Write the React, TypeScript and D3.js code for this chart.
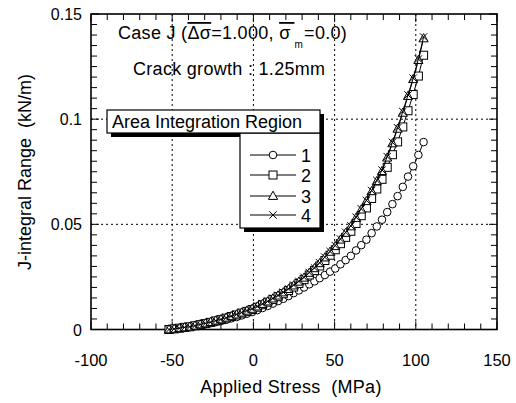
import React from "react";
import * as d3 from "d3";

const stress = [-52, -48.8, -45.6, -42.4, -39.2, -36, -32.8, -29.6, -26.4, -23.2, -20, -16.8, -13.6, -10.4, -7.2, -4, -0.8, 2.4, 5.6, 8.8, 12, 15.2, 18.4, 21.6, 24.8, 28, 31.2, 34.4, 37.6, 40.8, 44, 47.2, 50.4, 53.6, 56.8, 60, 63.2, 66.4, 69.6, 72.8, 76, 79.2, 82.4, 85.6, 88.8, 92, 95.2, 98.4, 101.6, 104.8];

const region1 = [0, 0.0003, 0.0006, 0.0008, 0.0011, 0.0016, 0.002, 0.0025, 0.003, 0.0035, 0.004, 0.0046, 0.0053, 0.0059, 0.0067, 0.0075, 0.0083, 0.0092, 0.0102, 0.0112, 0.0123, 0.0135, 0.0146, 0.0159, 0.0173, 0.0186, 0.02, 0.0215, 0.0229, 0.0244, 0.0259, 0.0275, 0.029, 0.031, 0.033, 0.035, 0.0376, 0.0401, 0.0427, 0.0458, 0.049, 0.0522, 0.0558, 0.0596, 0.0634, 0.0678, 0.0727, 0.0776, 0.083, 0.0891];
const region2 = [0, 0.0003, 0.0006, 0.001, 0.0013, 0.0018, 0.0023, 0.0028, 0.0034, 0.0041, 0.0047, 0.0054, 0.0062, 0.0069, 0.0078, 0.0086, 0.0095, 0.0106, 0.0118, 0.013, 0.0143, 0.0156, 0.017, 0.0185, 0.0202, 0.0219, 0.0237, 0.0259, 0.028, 0.0302, 0.0328, 0.0353, 0.0379, 0.0408, 0.0438, 0.0467, 0.0504, 0.0541, 0.0578, 0.0623, 0.0668, 0.0714, 0.0771, 0.0831, 0.0892, 0.0963, 0.104, 0.1117, 0.1205, 0.1304];
const region3 = [0, 0.0003, 0.0006, 0.001, 0.0013, 0.0018, 0.0024, 0.0029, 0.0035, 0.0042, 0.0048, 0.0056, 0.0063, 0.0071, 0.008, 0.0089, 0.0098, 0.0109, 0.0121, 0.0133, 0.0147, 0.0161, 0.0176, 0.0192, 0.0209, 0.0227, 0.0246, 0.0269, 0.0291, 0.0315, 0.0342, 0.0369, 0.0396, 0.0427, 0.0459, 0.049, 0.053, 0.057, 0.061, 0.0657, 0.0705, 0.0753, 0.0817, 0.0885, 0.0954, 0.103, 0.111, 0.119, 0.1281, 0.1384];
const region4 = [0, 0.0003, 0.0006, 0.001, 0.0013, 0.0018, 0.0024, 0.0029, 0.0035, 0.0042, 0.0048, 0.0056, 0.0064, 0.0072, 0.0081, 0.009, 0.0099, 0.011, 0.0122, 0.0134, 0.0148, 0.0162, 0.0177, 0.0193, 0.0211, 0.0229, 0.0248, 0.0271, 0.0293, 0.0317, 0.0344, 0.0371, 0.0399, 0.043, 0.0462, 0.0493, 0.0534, 0.0574, 0.0614, 0.0661, 0.0709, 0.0758, 0.0822, 0.089, 0.0959, 0.1036, 0.1115, 0.1195, 0.1286, 0.1391];

const seriesNames = ["1", "2", "3", "4"];
const seriesMarkers = ["circle", "square", "triangle", "cross"];
const xTickValues = [-100, -50, 0, 50, 100, 150];
const xTickLabels = ["-100", "-50", "0", "50", "100", "150"];
const yTickValues = [0, 0.05, 0.1, 0.15];
const yTickLabels = ["0", "0.05", "0.1", "0.15"];
const xGrid = [-50, 0, 50, 100];
const yGrid = [0.05, 0.1];

const FONT = "'Liberation Sans', Arial, Helvetica, sans-serif";

function Marker({ type, x, y }: { type: string; x: number; y: number }) {
  const common = { fill: "white", stroke: "black", strokeWidth: 1 };
  if (type === "circle") return <circle cx={x} cy={y} r={3.8} {...common} />;
  if (type === "square") return <rect x={x - 4} y={y - 4} width={8} height={8} {...common} />;
  if (type === "triangle")
    return <path d={`M${x},${y - 4.8}L${x + 4.6},${y + 3.4}L${x - 4.6},${y + 3.4}Z`} {...common} />;
  return <path d={`M${x - 3.7},${y - 3.7}L${x + 3.7},${y + 3.7}M${x - 3.7},${y + 3.7}L${x + 3.7},${y - 3.7}`} fill="none" stroke="black" strokeWidth={1} />;
}

export default function App() {
  const W = 516, H = 403;
  const left = 91, right = 497, top = 14, bottom = 329.5;
  const x = d3.scaleLinear().domain([-100, 150]).range([left, right]);
  const y = d3.scaleLinear().domain([0, 0.15]).range([bottom, top]);
  const data = [region1, region2, region3, region4];
  const line = d3.line<[number, number]>().x((d) => x(d[0])).y((d) => y(d[1]));

  const xMinor = d3.range(-100, 151, 10);
  const yMinor = d3.range(0, 0.1501, 0.005);

  const lgA = { x: 107, y: 110, w: 213, h: 23 };
  const lgB = { x: 240, y: 133, w: 80, h: 95 };
  const sh = 4;
  const legendRows = [155, 175, 196, 215];

  return (
    <svg width={W} height={H} style={{ position: "absolute", left: 0, top: 0, background: "white" }} fontFamily={FONT}>
      <rect x={0} y={0} width={W} height={H} fill="white" />
      {xGrid.map((g) => (
        <line key={"gx" + g} x1={x(g)} x2={x(g)} y1={top} y2={bottom} stroke="#000" strokeWidth={1} strokeDasharray="2,3" />
      ))}
      {yGrid.map((g) => (
        <line key={"gy" + g} x1={left} x2={right} y1={y(g)} y2={y(g)} stroke="#000" strokeWidth={1} strokeDasharray="2,3" />
      ))}
      {xMinor.map((t) => (
        <g key={"xt" + t}>
          <line x1={x(t)} x2={x(t)} y1={bottom} y2={bottom - (t % 50 === 0 ? 8 : 6)} stroke="#000" strokeWidth={1} />
          <line x1={x(t)} x2={x(t)} y1={top} y2={top + (t % 50 === 0 ? 8 : 6)} stroke="#000" strokeWidth={1} />
        </g>
      ))}
      {yMinor.map((t, i) => (
        <g key={"yt" + i}>
          <line x1={left} x2={left + (i % 10 === 0 ? 8 : 6)} y1={y(t)} y2={y(t)} stroke="#000" strokeWidth={1} />
          <line x1={right} x2={right - (i % 10 === 0 ? 8 : 6)} y1={y(t)} y2={y(t)} stroke="#000" strokeWidth={1} />
        </g>
      ))}
      <rect x={left} y={top} width={right - left} height={bottom - top} fill="none" stroke="#000" strokeWidth={1.6} />
      {xTickValues.map((t, i) => (
        <text key={"xl" + t} x={x(t)} y={366} fontSize={16.5} textAnchor="middle" fill="#000">
          {xTickLabels[i]}
        </text>
      ))}
      {yTickValues.map((t, i) => (
        <text key={"yl" + t} x={82} y={y(t) + 6} fontSize={16} textAnchor="end" fill="#000">
          {yTickLabels[i]}
        </text>
      ))}
      <text x={291} y={393} fontSize={18} textAnchor="middle" style={{ whiteSpace: "pre" }} letterSpacing={0.3}>
        {"Applied Stress  (MPa)"}
      </text>
      <text transform={`translate(31,172) rotate(-90)`} fontSize={18} textAnchor="middle" style={{ whiteSpace: "pre" }}>
        {"J-integral Range  (kN/m)"}
      </text>
      {data.map((vals, si) => {
        const pts: [number, number][] = stress.map((s, i) => [s, vals[i]]);
        return (
          <g key={"s" + si}>
            <path d={line(pts) || ""} fill="none" stroke="#000" strokeWidth={1} />
            {pts.map((p, i) => (
              <Marker key={i} type={seriesMarkers[si]} x={x(p[0])} y={y(p[1])} />
            ))}
          </g>
        );
      })}
      <text x={118} y={39} fontSize={18} letterSpacing={0.3} style={{ whiteSpace: "pre" }}>
        <tspan>{"Case J ("}</tspan>
        <tspan style={{ textDecoration: "overline" }}>{"\u0394\u03c3"}</tspan>
        <tspan>{"=1.000, "}</tspan>
        <tspan style={{ textDecoration: "overline" }}>{"\u03c3\u2009"}</tspan>
        <tspan fontSize={10} dx={0} dy={9}>m</tspan>
        <tspan dx={1} dy={-9}>{"=0.0)"}</tspan>
      </text>
      <text x={133} y={75} fontSize={18} letterSpacing={0.3} style={{ whiteSpace: "pre" }}>
        {"Crack growth : 1.25mm"}
      </text>
      <path
        d={`M${lgA.x + sh},${lgA.y + sh}H${lgA.x + lgA.w + sh}V${lgB.y + lgB.h + sh}H${lgB.x + sh}V${lgA.y + lgA.h + sh}H${lgA.x + sh}Z`}
        fill="#000"
      />
      <rect x={lgB.x} y={lgB.y} width={lgB.w} height={lgB.h} fill="white" stroke="#000" strokeWidth={1.2} />
      <rect x={lgA.x} y={lgA.y} width={lgA.w} height={lgA.h} fill="white" stroke="#000" strokeWidth={1.2} />
      <text x={112} y={128} fontSize={18}>Area Integration Region</text>
      {seriesNames.map((n, i) => (
        <g key={"lg" + n}>
          <line x1={250} x2={296} y1={legendRows[i]} y2={legendRows[i]} stroke="#000" strokeWidth={1} />
          <Marker type={seriesMarkers[i]} x={273} y={legendRows[i]} />
          <text x={301} y={legendRows[i] + 6.5} fontSize={18}>{n}</text>
        </g>
      ))}
    </svg>
  );
}
